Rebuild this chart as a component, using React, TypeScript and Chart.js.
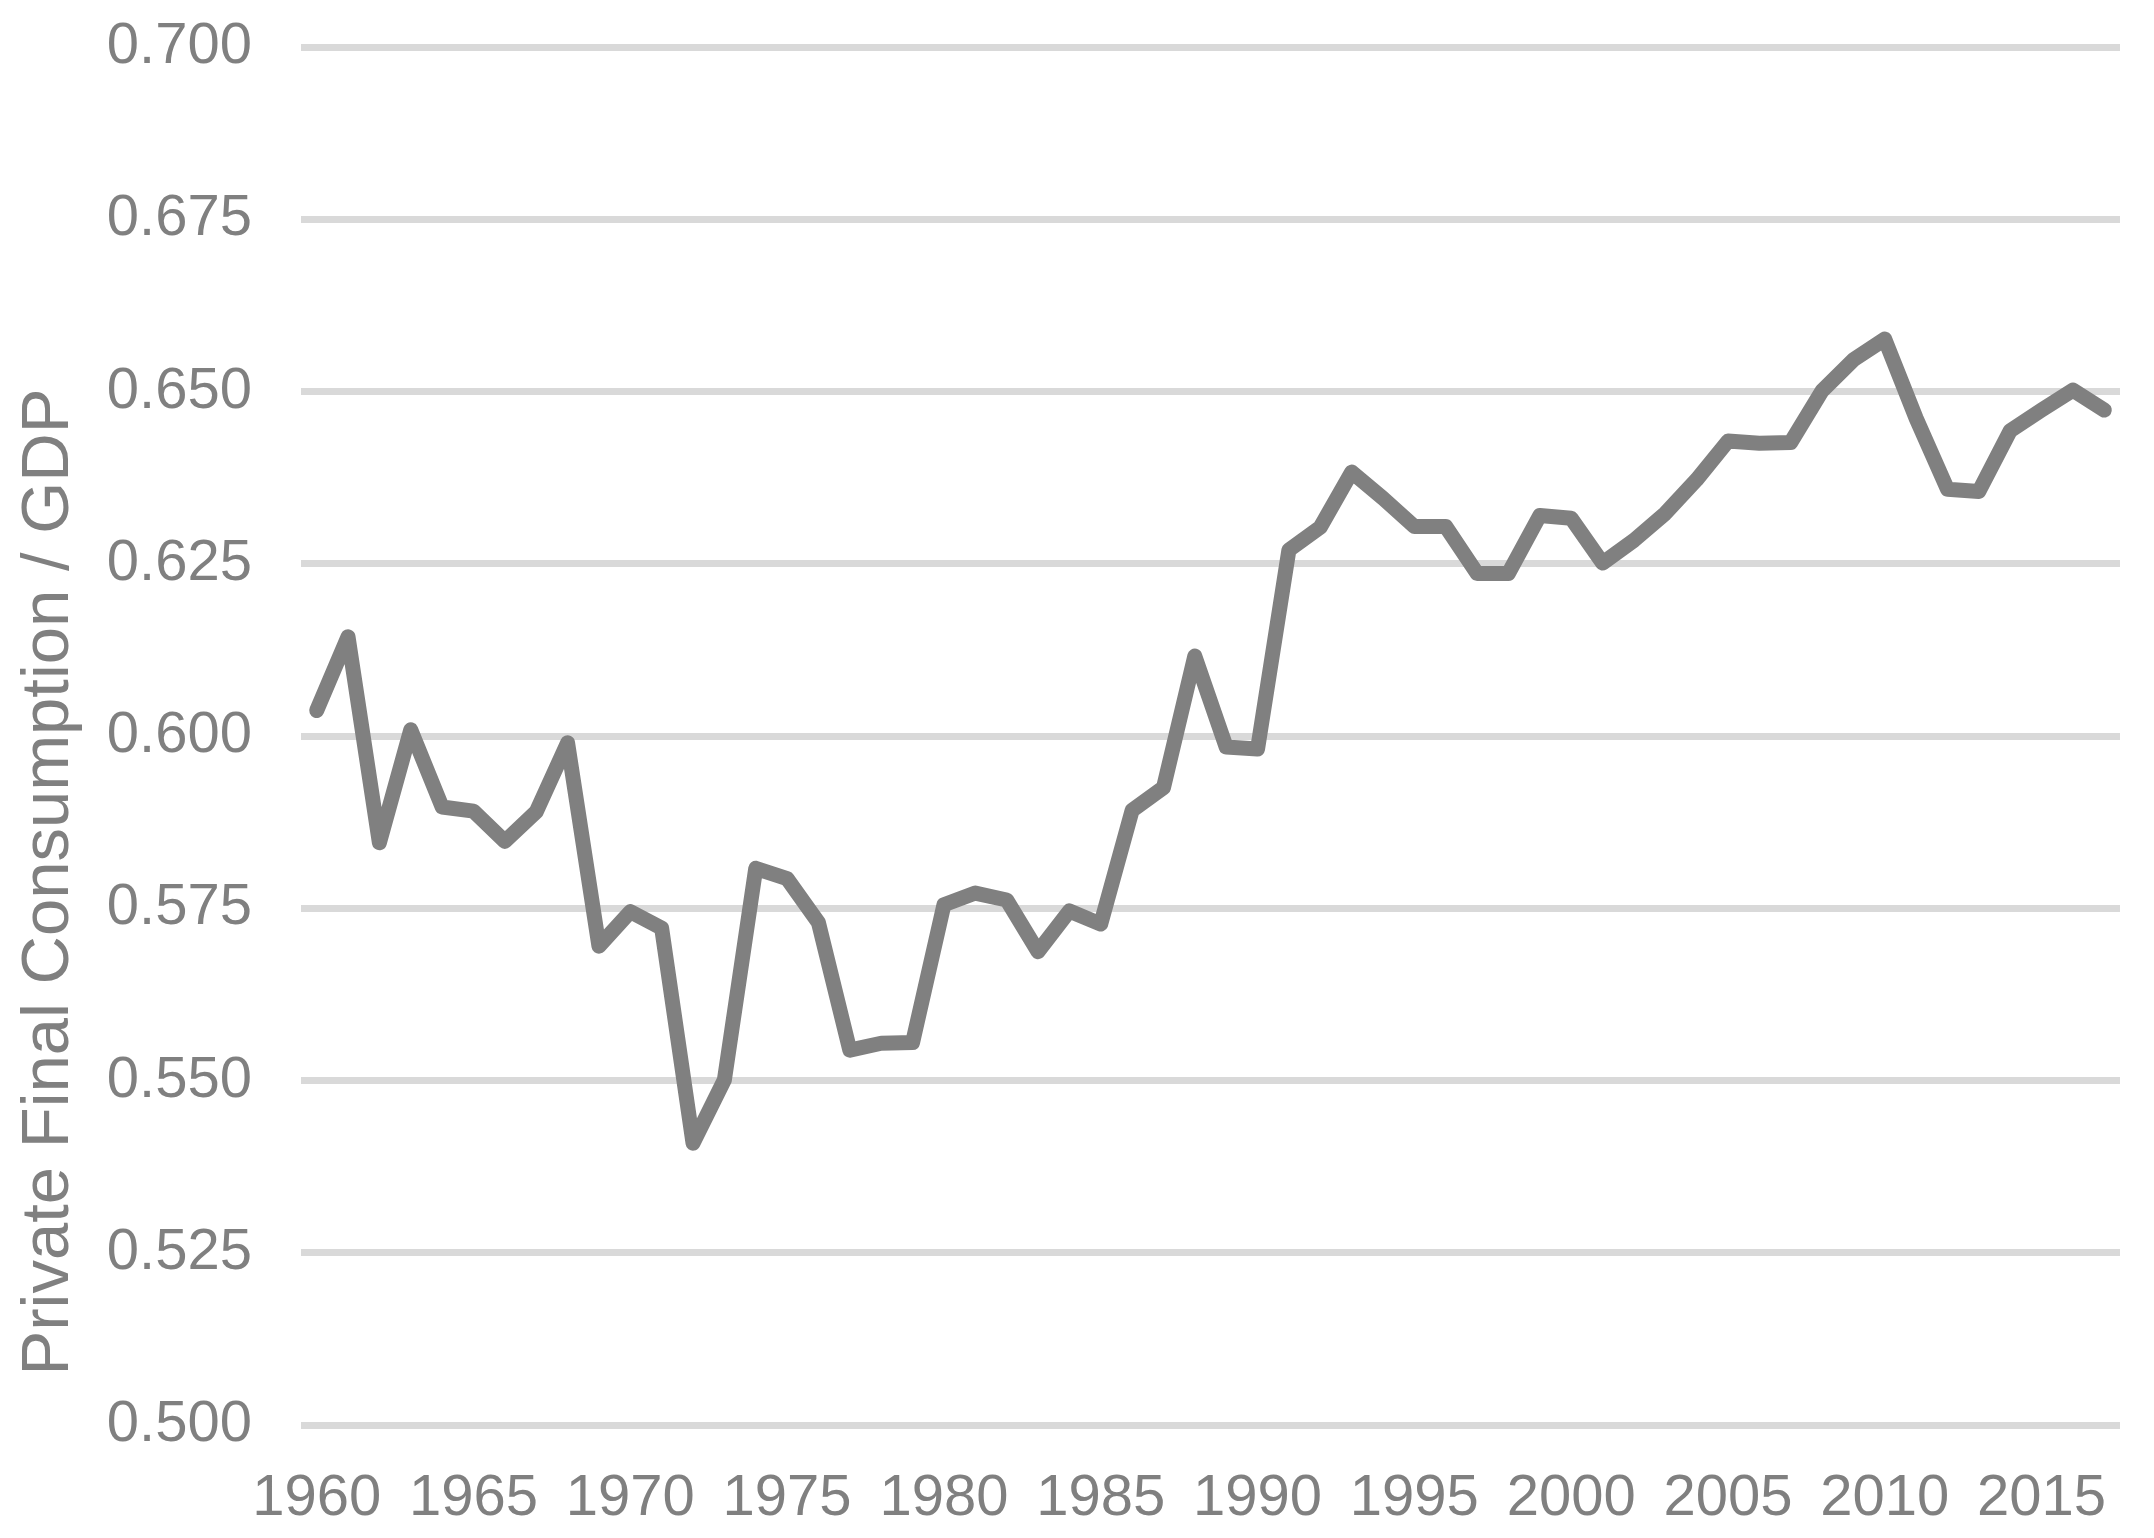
import React, { useEffect, useRef } from "react";
import { Chart, registerables } from "chart.js";

Chart.register(...registerables);

const years: string[] = [];
for (let y = 1960; y <= 2017; y++) years.push(String(y));

const tickYears = ["1960", "1965", "1970", "1975", "1980", "1985", "1990", "1995", "2000", "2005", "2010", "2015"];

const consumptionShare = [
  0.6037, 0.6144, 0.5845, 0.6009, 0.5897, 0.5891, 0.5847, 0.5890, 0.5990, 0.5695,
  0.5745, 0.5721, 0.5409, 0.5501, 0.5808, 0.5793, 0.5729, 0.5544, 0.5554, 0.5555,
  0.5755, 0.5772, 0.5762, 0.5687, 0.5746, 0.5727, 0.5892, 0.5925, 0.6116, 0.5984,
  0.5981, 0.6270, 0.6303, 0.6383, 0.6345, 0.6304, 0.6304, 0.6236, 0.6236, 0.6320,
  0.6316, 0.6251, 0.6284, 0.6323, 0.6372, 0.6428, 0.6425, 0.6426, 0.6501, 0.6546,
  0.6576, 0.6461, 0.6358, 0.6355, 0.6443, 0.6473, 0.6502, 0.6473,
];

const yMin = 0.5;
const yMax = 0.7;
const yStep = 0.025;
const yTitle = "Private Final Consumption / GDP";

const FONT = "'Liberation Sans', Arial, sans-serif";
const TEXT = "#808080";

const yTitlePlugin = {
  id: "yTitlePlugin",
  afterDraw(chart: any) {
    const ctx = chart.ctx;
    ctx.save();
    ctx.translate(68, 882);
    ctx.rotate(-Math.PI / 2);
    ctx.font = `67px ${FONT}`;
    ctx.fillStyle = TEXT;
    ctx.textAlign = "center";
    ctx.textBaseline = "alphabetic";
    ctx.fillText(yTitle, 0, 0);
    ctx.restore();
  },
};

export default function App() {
  const ref = useRef<HTMLCanvasElement | null>(null);

  useEffect(() => {
    if (!ref.current) return;
    const chart = new Chart(ref.current, {
      type: "line",
      data: {
        labels: years,
        datasets: [
          {
            data: consumptionShare,
            borderColor: "#808080",
            borderWidth: 15,
            borderJoinStyle: "round",
            borderCapStyle: "round",
            pointRadius: 0,
            tension: 0,
            fill: false,
          },
        ],
      },
      plugins: [yTitlePlugin],
      options: {
        animation: false,
        responsive: false,
        maintainAspectRatio: false,
        layout: { padding: { top: 47, right: 34, bottom: 0, left: 0 } },
        plugins: { legend: { display: false }, tooltip: { enabled: false } },
        scales: {
          x: {
            type: "category",
            offset: true,
            grid: { display: false, drawTicks: false },
            border: { display: false },
            ticks: {
              autoSkip: false,
              maxRotation: 0,
              minRotation: 0,
              padding: 39,
              color: TEXT,
              font: { family: FONT, size: 58 },
              callback: (_v: any, i: number) => (tickYears.includes(years[i]) ? years[i] : ""),
            },
            afterFit: (s: any) => {
              s.height = 113;
              s.paddingLeft = 0;
              s.paddingRight = 0;
            },
          },
          y: {
            min: yMin,
            max: yMax,
            grid: { color: "#d9d9d9", lineWidth: 7, drawTicks: false },
            border: { display: false },
            ticks: {
              stepSize: yStep,
              padding: 49,
              color: TEXT,
              font: { family: FONT, size: 58 },
              callback: (v: any) => Number(v).toFixed(3),
            },
            afterFit: (s: any) => {
              s.width = 301;
              s.paddingTop = 0;
              s.paddingBottom = 0;
            },
          },
        },
      },
    });
    return () => chart.destroy();
  }, []);

  return (
    <div style={{ position: "fixed", left: 0, top: 0, width: 2154, height: 1538, background: "#fff" }}>
      <canvas ref={ref} width={2154} height={1538} style={{ width: 2154, height: 1538 }} />
    </div>
  );
}
